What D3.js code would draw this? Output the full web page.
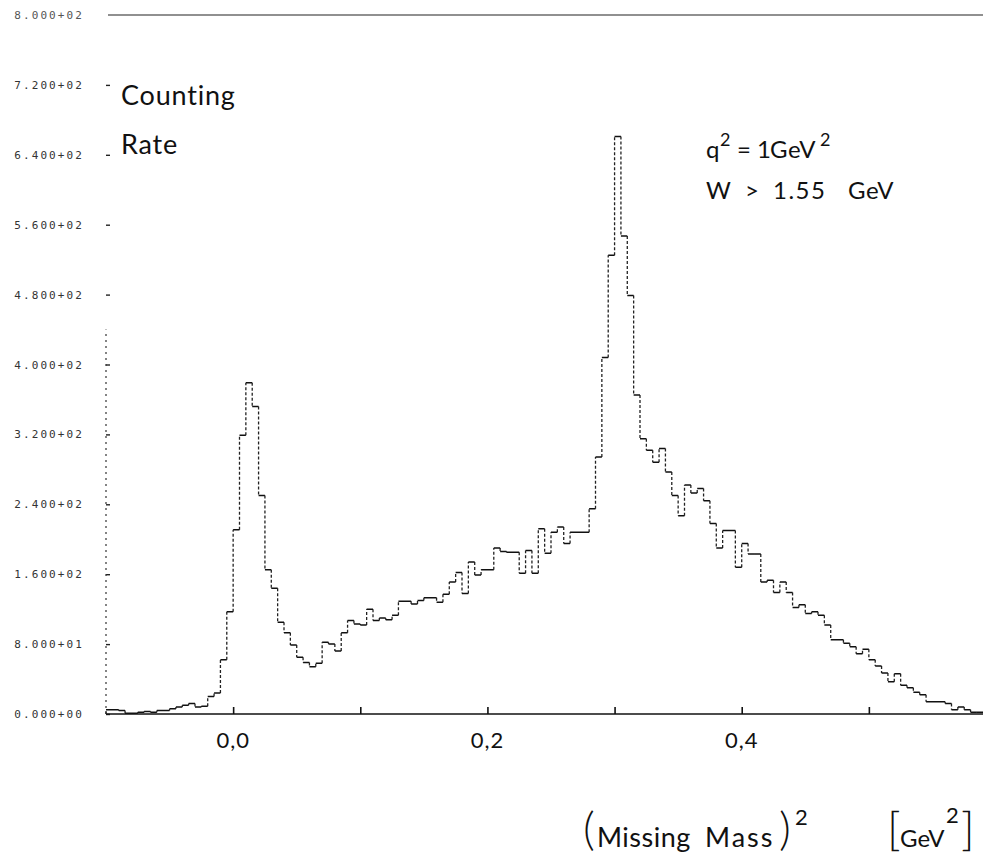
<!DOCTYPE html>
<html>
<head>
<meta charset="utf-8">
<script src="https://d3js.org/d3.v7.min.js"></script>
<style>
  body { margin: 0; background: #fff; }
  svg { display: block; background: #fff; }
</style>
</head>
<body>
<svg></svg>
<script>
// histogram: counts per bin of (missing mass)^2, bins start at -0.1 GeV^2, width 0.005
var binStart = -0.1;
var binWidth = 0.005;
var counts = [
  5, 5, 4, 1, 1, 2, 3, 2, 4, 4,
  6, 8, 10, 12, 8, 9, 20, 24, 62, 117,
  211, 319, 379, 352, 250, 165, 144, 105, 93, 79,
  65, 59, 54, 58, 82, 80, 72, 93, 107, 103,
  102, 120, 107, 110, 108, 113, 129, 129, 126, 130,
  133, 133, 128, 137, 151, 162, 138, 174, 159, 165,
  165, 190, 186, 185, 185, 161, 187, 161, 212, 184,
  208, 214, 195, 208, 208, 208, 235, 294, 408, 525,
  661, 547, 479, 365, 315, 302, 288, 304, 277, 250,
  227, 262, 253, 258, 244, 218, 190, 210, 210, 168,
  195, 183, 183, 151, 153, 139, 151, 139, 122, 125,
  115, 117, 113, 102, 85, 85, 81, 77, 69, 74,
  62, 55, 47, 37, 46, 33, 30, 25, 22, 14,
  14, 14, 12, 5, 8, 5, 2, 2, 1, 1
];

var xTicks = [0, 0.1, 0.2, 0.3, 0.4, 0.5];
var xLabels = [0, 0.2, 0.4];
var yTicks = [0, 80, 160, 240, 320, 400, 480, 560, 640, 720, 800];
var yAxisVisibleTop = 440; // faded scan: axis line only shows up to here

var W = 983, H = 854;
var svg = d3.select('svg').attr('width', W).attr('height', H);

var x = d3.scaleLinear().domain([-0.1, 0.6]).range([106, 996]);
var y = d3.scaleLinear().domain([0, 800]).range([714, 15]);

// fortran-ish "8.000+02" labels
function eLabel(v) {
  if (v === 0) return '0.000+00';
  var e = Math.floor(Math.log10(v));
  var m = v / Math.pow(10, e);
  return m.toFixed(3) + '+' + (e < 10 ? '0' : '') + e;
}

// top frame line
svg.append('line')
  .attr('x1', x(-0.1) + 2).attr('x2', W)
  .attr('y1', y(800)).attr('y2', y(800))
  .attr('stroke', '#222').attr('stroke-width', 1.1);

// y axis
var yAxis = svg.append('g')
  .attr('transform', 'translate(' + x(-0.1) + ',0)')
  .call(d3.axisLeft(y).tickValues(yTicks.filter(function(d) { return d < 800; }))
        .tickSize(-4).tickPadding(22).tickFormat(eLabel));
yAxis.select('.domain').remove();
yAxis.selectAll('line').attr('stroke', '#222').attr('stroke-width', 1.4);
yAxis.selectAll('text')
  .attr('font-family', '"DejaVu Sans Mono", monospace')
  .attr('font-size', 11)
  .attr('letter-spacing', 2.1)
  .attr('fill', '#333');
svg.append('text')
  .attr('x', x(-0.1) - 22).attr('y', y(800)).attr('dy', '0.32em')
  .attr('text-anchor', 'end')
  .attr('font-family', '"DejaVu Sans Mono", monospace')
  .attr('font-size', 11).attr('letter-spacing', 2.1)
  .attr('fill', '#555')
  .text(eLabel(800));

svg.append('line')
  .attr('x1', x(-0.1)).attr('x2', x(-0.1))
  .attr('y1', y(0)).attr('y2', y(yAxisVisibleTop))
  .attr('stroke', '#333').attr('stroke-width', 1.2)
  .attr('stroke-dasharray', '2,4');

// x axis: baseline with small upward ticks
var xAxis = svg.append('g')
  .attr('transform', 'translate(0,' + y(0) + ')')
  .call(d3.axisBottom(x).tickValues(xTicks).tickSize(-7).tickFormat(''));
xAxis.select('.domain').remove();
xAxis.selectAll('line').attr('stroke', '#111').attr('stroke-width', 1.6);
svg.append('line')
  .attr('x1', x(-0.1)).attr('x2', W)
  .attr('y1', y(0)).attr('y2', y(0))
  .attr('stroke', '#111').attr('stroke-width', 1.5);

var font = 'Lato, "Noto Sans", sans-serif';
var commaFmt = d3.formatLocale({ decimal: ',', thousands: '.', grouping: [3], currency: ['', ''] }).format('.1f');
svg.append('g').selectAll('text')
  .data(xLabels)
  .enter().append('text')
  .attr('x', function(d) { return x(d); })
  .attr('y', 748)
  .attr('text-anchor', 'middle')
  .attr('font-family', font)
  .attr('font-size', 22)
  .attr('letter-spacing', 1)
  .attr('fill', '#111')
  .text(function(d) { return commaFmt(d); });

// histogram: horizontal tops solid, risers thin/dotted like the scan
var tops = '';
var risers = '';
var prev = 0;
counts.forEach(function(c, i) {
  var a = x(binStart + i * binWidth), b = x(binStart + (i + 1) * binWidth);
  tops += 'M' + a + ',' + y(c) + 'H' + b;
  risers += 'M' + a + ',' + y(prev) + 'V' + y(c);
  prev = c;
});
svg.append('path').attr('d', risers)
  .attr('fill', 'none').attr('stroke', '#222').attr('stroke-width', 1.3)
  .attr('stroke-dasharray', '3,2');
svg.append('path').attr('d', tops)
  .attr('fill', 'none').attr('stroke', '#111').attr('stroke-width', 1.5);

// annotations
function label(tx, ty, size, str) {
  return svg.append('text').attr('x', tx).attr('y', ty)
    .attr('font-family', font).attr('font-size', size).attr('fill', '#111').text(str);
}
label(121, 105, 27, 'Counting').attr('letter-spacing', 0.8);
label(121, 154, 27, 'Rate').attr('letter-spacing', 0.8);

label(706, 158, 24, 'q');
label(720, 146, 18, '2');
label(737, 158, 24, '=');
label(757, 158, 24, '1');
label(770, 158, 24, 'GeV').attr('letter-spacing', 0.5);
label(820, 146, 18, '2');

label(706, 199, 24, 'W');
label(745, 199, 24, '>');
label(773, 199, 24, '1.55').attr('letter-spacing', 1.5);
label(848, 199, 24, 'GeV').attr('letter-spacing', 0.5);

// x title
label(583, 845, 46, '(').attr('font-weight', 300);
label(597, 847, 27, 'Missing').attr('letter-spacing', 0.5);
label(705, 847, 27, 'Mass').attr('letter-spacing', 2);
label(779, 845, 46, ')').attr('font-weight', 300);
label(795, 825, 22, '2');
label(887, 845, 46, '[').attr('font-weight', 300);
label(900, 847, 24, 'GeV');
label(946, 823, 22, '2');
label(961, 845, 46, ']').attr('font-weight', 300);
</script>
</body>
</html>
